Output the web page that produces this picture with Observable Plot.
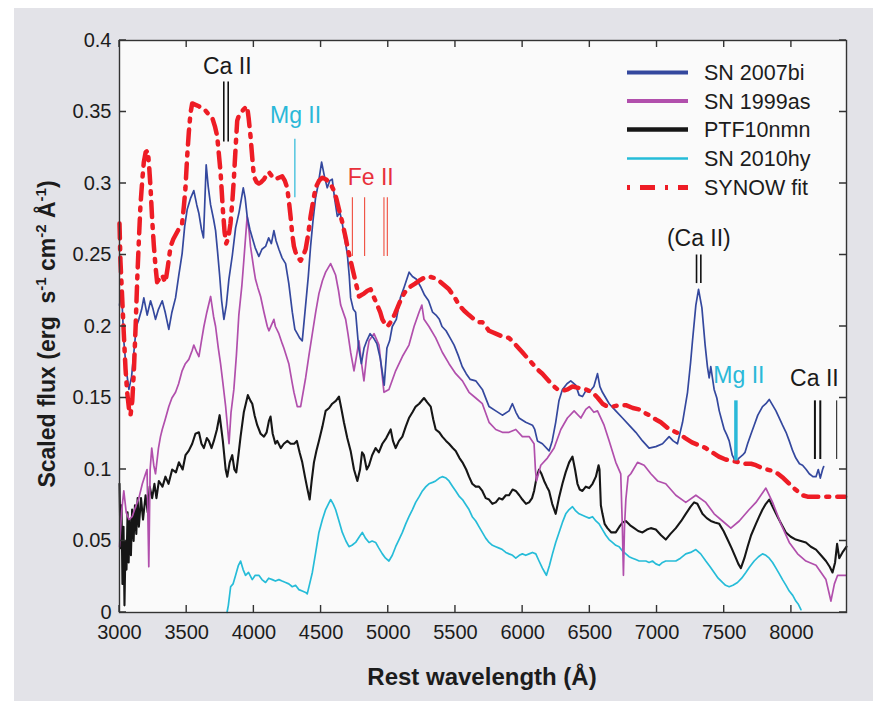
<!DOCTYPE html>
<html>
<head>
<meta charset="utf-8">
<script src="https://cdn.jsdelivr.net/npm/d3@7"></script>
<script src="https://cdn.jsdelivr.net/npm/@observablehq/plot@0.6"></script>
<style>
  html, body { margin: 0; padding: 0; background: #ffffff; }
  #panel { position: absolute; left: 14px; top: 8px; width: 859px; height: 693px; background: #e3e3e8; }
  #chart { position: absolute; left: 0; top: 0; }
  svg { font-family: "Liberation Sans", Arial, Helvetica, sans-serif; }
</style>
</head>
<body>
<div id="panel"></div>
<div id="chart"></div>
<script>
// ---------- data (wavelength Å, scaled flux) ----------
const sn2007bi = [[3000,0.215],[3015,0.225],[3032,0.19],[3050,0.17],[3070,0.156],[3090,0.165],[3107,0.182],[3125,0.2],[3144,0.205],[3165,0.212],[3181,0.22],[3206,0.208],[3231,0.218],[3250,0.212],[3268,0.205],[3290,0.212],[3318,0.218],[3340,0.21],[3367,0.198],[3390,0.21],[3417,0.22],[3440,0.235],[3466,0.251],[3485,0.27],[3504,0.282],[3530,0.29],[3553,0.295],[3575,0.285],[3591,0.279],[3610,0.268],[3625,0.262],[3645,0.313],[3660,0.298],[3678,0.285],[3700,0.275],[3715,0.267],[3730,0.252],[3745,0.236],[3760,0.218],[3777,0.205],[3795,0.215],[3814,0.233],[3840,0.25],[3864,0.269],[3890,0.28],[3921,0.297],[3935,0.29],[3950,0.277],[3970,0.268],[3988,0.262],[4010,0.255],[4037,0.249],[4060,0.254],[4087,0.256],[4110,0.262],[4130,0.258],[4149,0.267],[4165,0.26],[4186,0.254],[4210,0.248],[4236,0.244],[4260,0.23],[4286,0.21],[4305,0.198],[4323,0.195],[4340,0.192],[4360,0.19],[4385,0.215],[4405,0.235],[4422,0.256],[4440,0.274],[4459,0.29],[4480,0.3],[4504,0.315],[4525,0.305],[4546,0.297],[4565,0.302],[4583,0.303],[4600,0.29],[4621,0.277],[4640,0.28],[4658,0.272],[4675,0.262],[4695,0.251],[4710,0.235],[4720,0.22],[4740,0.212],[4757,0.21],[4780,0.185],[4800,0.174],[4820,0.185],[4840,0.19],[4865,0.195],[4890,0.192],[4915,0.188],[4940,0.178],[4970,0.159],[4990,0.185],[5010,0.19],[5030,0.2],[5060,0.205],[5090,0.22],[5120,0.228],[5155,0.238],[5180,0.235],[5210,0.233],[5240,0.228],[5270,0.222],[5300,0.218],[5330,0.21],[5355,0.208],[5380,0.205],[5400,0.2],[5430,0.197],[5460,0.192],[5490,0.187],[5520,0.18],[5550,0.172],[5580,0.167],[5610,0.163],[5651,0.162],[5700,0.156],[5750,0.144],[5800,0.141],[5849,0.138],[5899,0.141],[5924,0.146],[5950,0.14],[5973,0.136],[6023,0.133],[6073,0.131],[6090,0.128],[6110,0.12],[6147,0.118],[6197,0.113],[6220,0.12],[6246,0.133],[6270,0.148],[6296,0.156],[6330,0.16],[6358,0.162],[6395,0.159],[6420,0.152],[6445,0.151],[6470,0.155],[6495,0.154],[6530,0.158],[6557,0.167],[6575,0.158],[6594,0.154],[6644,0.146],[6693,0.141],[6743,0.136],[6792,0.131],[6842,0.126],[6892,0.12],[6941,0.115],[6991,0.116],[7041,0.118],[7090,0.123],[7120,0.12],[7152,0.118],[7190,0.133],[7227,0.154],[7250,0.175],[7264,0.19],[7289,0.215],[7309,0.226],[7334,0.213],[7358,0.187],[7375,0.172],[7388,0.164],[7400,0.172],[7425,0.156],[7445,0.15],[7463,0.141],[7480,0.135],[7500,0.128],[7520,0.124],[7537,0.12],[7560,0.11],[7587,0.105],[7610,0.108],[7636,0.11],[7655,0.112],[7674,0.118],[7700,0.125],[7723,0.131],[7750,0.138],[7785,0.144],[7810,0.146],[7835,0.149],[7860,0.145],[7885,0.141],[7910,0.136],[7934,0.131],[7960,0.126],[7984,0.12],[8010,0.113],[8033,0.108],[8060,0.104],[8083,0.103],[8110,0.1],[8133,0.097],[8160,0.095],[8183,0.095],[8200,0.1],[8215,0.094],[8232,0.1],[8240,0.102]];

const sn1999as = [[3000,0.046],[3015,0.07],[3032,0.085],[3050,0.07],[3070,0.065],[3094,0.067],[3120,0.074],[3144,0.08],[3170,0.09],[3194,0.097],[3205,0.1],[3218,0.032],[3228,0.1],[3240,0.115],[3255,0.103],[3268,0.097],[3290,0.115],[3305,0.123],[3318,0.128],[3340,0.135],[3367,0.144],[3390,0.15],[3417,0.154],[3440,0.16],[3466,0.169],[3490,0.174],[3516,0.177],[3540,0.183],[3553,0.187],[3575,0.182],[3591,0.179],[3610,0.19],[3628,0.2],[3650,0.21],[3678,0.221],[3700,0.207],[3715,0.2],[3735,0.185],[3752,0.174],[3770,0.16],[3790,0.144],[3815,0.118],[3830,0.14],[3851,0.156],[3870,0.18],[3888,0.208],[3910,0.228],[3925,0.246],[3950,0.277],[3965,0.266],[3975,0.256],[4000,0.24],[4012,0.233],[4030,0.227],[4050,0.221],[4075,0.21],[4100,0.2],[4112,0.197],[4149,0.205],[4160,0.2],[4186,0.195],[4211,0.188],[4223,0.185],[4260,0.174],[4286,0.16],[4298,0.154],[4323,0.144],[4348,0.144],[4385,0.164],[4410,0.18],[4435,0.195],[4460,0.21],[4484,0.223],[4510,0.232],[4534,0.238],[4571,0.244],[4590,0.24],[4608,0.236],[4630,0.225],[4646,0.215],[4683,0.205],[4700,0.195],[4720,0.182],[4745,0.169],[4765,0.18],[4782,0.19],[4800,0.175],[4819,0.162],[4840,0.18],[4857,0.19],[4894,0.195],[4931,0.187],[4950,0.17],[4968,0.154],[5005,0.156],[5055,0.169],[5105,0.179],[5154,0.187],[5192,0.2],[5229,0.21],[5250,0.215],[5266,0.205],[5303,0.2],[5353,0.192],[5402,0.182],[5452,0.174],[5502,0.167],[5552,0.162],[5601,0.154],[5651,0.15],[5700,0.146],[5750,0.133],[5800,0.128],[5849,0.126],[5899,0.126],[5949,0.128],[5998,0.123],[6048,0.123],[6085,0.118],[6095,0.1],[6103,0.092],[6135,0.103],[6184,0.108],[6234,0.115],[6284,0.128],[6333,0.136],[6383,0.141],[6433,0.136],[6470,0.142],[6495,0.144],[6530,0.14],[6557,0.141],[6606,0.131],[6644,0.12],[6693,0.105],[6730,0.097],[6742,0.06],[6750,0.026],[6758,0.06],[6768,0.079],[6785,0.095],[6805,0.097],[6855,0.105],[6904,0.103],[6954,0.097],[7004,0.092],[7065,0.09],[7140,0.082],[7214,0.077],[7289,0.082],[7363,0.077],[7425,0.069],[7487,0.064],[7549,0.059],[7612,0.064],[7686,0.072],[7736,0.077],[7810,0.087],[7860,0.077],[7922,0.062],[7984,0.049],[8046,0.041],[8108,0.036],[8183,0.033],[8257,0.023],[8294,0.008],[8320,0.02],[8344,0.026],[8406,0.026]];

const ptf10nmn = [[3000,0.09],[3008,0.045],[3015,0.075],[3022,0.02],[3030,0.06],[3037,0.005],[3045,0.05],[3052,0.03],[3060,0.07],[3068,0.035],[3075,0.065],[3085,0.04],[3094,0.072],[3105,0.05],[3115,0.075],[3125,0.055],[3135,0.08],[3144,0.06],[3160,0.08],[3175,0.065],[3194,0.082],[3210,0.07],[3225,0.088],[3243,0.08],[3260,0.09],[3275,0.08],[3293,0.092],[3320,0.088],[3342,0.095],[3365,0.09],[3392,0.1],[3420,0.098],[3442,0.105],[3470,0.1],[3491,0.11],[3515,0.113],[3541,0.118],[3565,0.125],[3591,0.126],[3610,0.118],[3628,0.115],[3650,0.122],[3665,0.12],[3685,0.115],[3702,0.12],[3725,0.128],[3745,0.138],[3769,0.12],[3790,0.1],[3802,0.095],[3820,0.105],[3839,0.11],[3855,0.1],[3869,0.098],[3885,0.11],[3901,0.123],[3925,0.14],[3955,0.152],[3975,0.148],[3988,0.146],[4005,0.138],[4025,0.131],[4050,0.125],[4075,0.123],[4095,0.126],[4112,0.134],[4124,0.137],[4140,0.125],[4160,0.118],[4174,0.12],[4200,0.115],[4223,0.118],[4250,0.12],[4273,0.118],[4300,0.118],[4320,0.12],[4340,0.112],[4360,0.105],[4380,0.095],[4397,0.087],[4415,0.079],[4430,0.092],[4447,0.105],[4465,0.113],[4484,0.12],[4510,0.13],[4534,0.141],[4560,0.143],[4583,0.146],[4610,0.148],[4633,0.151],[4650,0.143],[4670,0.133],[4695,0.122],[4720,0.113],[4745,0.1],[4770,0.092],[4790,0.1],[4805,0.112],[4819,0.11],[4840,0.1],[4857,0.103],[4880,0.11],[4906,0.115],[4930,0.112],[4956,0.118],[4985,0.122],[5018,0.128],[5035,0.12],[5055,0.115],[5080,0.12],[5105,0.123],[5130,0.13],[5154,0.136],[5180,0.14],[5204,0.144],[5230,0.146],[5266,0.15],[5290,0.147],[5316,0.144],[5335,0.135],[5353,0.128],[5380,0.126],[5402,0.123],[5430,0.12],[5452,0.118],[5480,0.115],[5502,0.113],[5530,0.108],[5552,0.105],[5580,0.1],[5601,0.095],[5625,0.09],[5651,0.088],[5675,0.088],[5700,0.085],[5725,0.08],[5750,0.079],[5775,0.076],[5800,0.077],[5825,0.08],[5849,0.079],[5875,0.082],[5899,0.082],[5925,0.086],[5949,0.085],[5975,0.082],[5998,0.079],[6025,0.076],[6048,0.077],[6070,0.08],[6085,0.085],[6105,0.095],[6122,0.1],[6140,0.097],[6160,0.092],[6180,0.088],[6197,0.085],[6220,0.076],[6246,0.069],[6270,0.08],[6296,0.09],[6320,0.098],[6346,0.105],[6371,0.109],[6390,0.1],[6408,0.09],[6425,0.086],[6445,0.085],[6470,0.088],[6495,0.087],[6520,0.09],[6545,0.095],[6565,0.103],[6572,0.1],[6582,0.075],[6594,0.069],[6610,0.062],[6631,0.059],[6660,0.056],[6693,0.056],[6720,0.06],[6745,0.063],[6768,0.064],[6800,0.061],[6830,0.059],[6860,0.057],[6892,0.056],[6925,0.058],[6954,0.059],[6991,0.058],[7030,0.054],[7065,0.051],[7100,0.055],[7140,0.059],[7180,0.064],[7214,0.069],[7250,0.074],[7276,0.077],[7300,0.076],[7338,0.069],[7370,0.066],[7400,0.064],[7430,0.063],[7463,0.062],[7495,0.057],[7525,0.051],[7555,0.045],[7587,0.038],[7605,0.034],[7624,0.031],[7650,0.038],[7674,0.046],[7700,0.054],[7736,0.062],[7760,0.067],[7785,0.072],[7810,0.076],[7835,0.079],[7865,0.073],[7897,0.067],[7930,0.061],[7959,0.056],[7995,0.053],[8033,0.051],[8070,0.05],[8108,0.049],[8145,0.046],[8183,0.044],[8220,0.04],[8257,0.036],[8285,0.032],[8306,0.028],[8325,0.035],[8340,0.048],[8356,0.038],[8380,0.042],[8410,0.046]];

const sn2010hy = [[3800,0],[3810,0.005],[3827,0.018],[3845,0.02],[3864,0.026],[3885,0.033],[3901,0.036],[3920,0.03],[3938,0.026],[3960,0.028],[3988,0.023],[4010,0.026],[4037,0.026],[4060,0.023],[4087,0.021],[4110,0.024],[4137,0.023],[4160,0.022],[4186,0.023],[4210,0.022],[4236,0.021],[4260,0.02],[4286,0.018],[4310,0.019],[4335,0.016],[4360,0.015],[4385,0.014],[4397,0.013],[4415,0.02],[4435,0.028],[4460,0.042],[4484,0.056],[4510,0.065],[4534,0.072],[4555,0.076],[4571,0.079],[4590,0.076],[4608,0.072],[4630,0.065],[4658,0.056],[4685,0.05],[4708,0.046],[4730,0.047],[4757,0.049],[4785,0.053],[4807,0.056],[4830,0.052],[4857,0.049],[4880,0.05],[4906,0.049],[4930,0.045],[4956,0.041],[4980,0.038],[5005,0.036],[5030,0.04],[5055,0.046],[5080,0.051],[5105,0.056],[5130,0.062],[5154,0.067],[5180,0.072],[5204,0.077],[5230,0.081],[5254,0.085],[5280,0.088],[5303,0.09],[5330,0.091],[5353,0.092],[5380,0.094],[5402,0.095],[5430,0.094],[5452,0.092],[5480,0.088],[5502,0.085],[5530,0.081],[5552,0.079],[5580,0.075],[5601,0.072],[5625,0.067],[5651,0.064],[5675,0.06],[5700,0.056],[5725,0.052],[5750,0.049],[5775,0.047],[5800,0.046],[5825,0.045],[5849,0.044],[5875,0.042],[5899,0.041],[5925,0.04],[5949,0.038],[5975,0.04],[5998,0.041],[6023,0.04],[6048,0.041],[6073,0.042],[6098,0.041],[6122,0.036],[6147,0.031],[6165,0.028],[6177,0.026],[6200,0.033],[6222,0.041],[6246,0.049],[6271,0.056],[6296,0.063],[6321,0.069],[6346,0.072],[6371,0.074],[6395,0.071],[6420,0.069],[6445,0.068],[6470,0.067],[6495,0.066],[6520,0.067],[6545,0.064],[6569,0.062],[6594,0.058],[6619,0.054],[6643,0.051],[6668,0.049],[6693,0.047],[6718,0.046],[6743,0.043],[6768,0.041],[6792,0.039],[6817,0.038],[6842,0.037],[6867,0.036],[6892,0.036],[6917,0.036],[6941,0.035],[6966,0.036],[6991,0.034],[7016,0.033],[7041,0.035],[7065,0.036],[7100,0.036],[7140,0.036],[7175,0.038],[7214,0.041],[7250,0.042],[7289,0.044],[7325,0.041],[7363,0.036],[7395,0.032],[7425,0.028],[7455,0.024],[7487,0.021],[7510,0.019],[7537,0.018],[7565,0.019],[7599,0.021],[7630,0.024],[7661,0.028],[7690,0.032],[7723,0.036],[7755,0.039],[7785,0.041],[7810,0.04],[7835,0.038],[7860,0.035],[7885,0.031],[7910,0.027],[7934,0.023],[7960,0.019],[7984,0.015],[8010,0.012],[8033,0.008],[8050,0.006],[8071,0.002]];

const synowFit = [[3000,0.272],[3007,0.246],[3020,0.22],[3032,0.195],[3045,0.17],[3057,0.154],[3070,0.143],[3082,0.138],[3095,0.148],[3107,0.169],[3120,0.2],[3132,0.233],[3144,0.26],[3156,0.285],[3170,0.303],[3181,0.315],[3195,0.322],[3211,0.323],[3222,0.31],[3231,0.297],[3243,0.275],[3256,0.256],[3268,0.242],[3280,0.231],[3300,0.234],[3318,0.236],[3330,0.233],[3342,0.231],[3360,0.242],[3380,0.256],[3400,0.261],[3417,0.264],[3440,0.268],[3466,0.272],[3480,0.285],[3491,0.297],[3503,0.318],[3516,0.336],[3528,0.349],[3541,0.356],[3566,0.355],[3591,0.354],[3615,0.352],[3640,0.351],[3665,0.348],[3690,0.346],[3710,0.34],[3727,0.333],[3740,0.32],[3752,0.308],[3769,0.282],[3782,0.266],[3794,0.258],[3810,0.262],[3826,0.272],[3840,0.288],[3851,0.303],[3864,0.325],[3876,0.344],[3890,0.348],[3901,0.349],[3925,0.352],[3950,0.354],[3962,0.345],[3975,0.333],[3988,0.318],[4000,0.305],[4020,0.301],[4037,0.3],[4055,0.301],[4075,0.303],[4095,0.306],[4112,0.308],[4135,0.305],[4161,0.303],[4185,0.304],[4211,0.305],[4230,0.302],[4248,0.297],[4260,0.288],[4273,0.277],[4285,0.265],[4298,0.256],[4310,0.252],[4330,0.248],[4348,0.246],[4365,0.249],[4385,0.254],[4405,0.265],[4422,0.277],[4440,0.287],[4459,0.297],[4485,0.302],[4509,0.304],[4535,0.303],[4559,0.301],[4580,0.298],[4596,0.295],[4615,0.289],[4633,0.282],[4660,0.272],[4683,0.262],[4700,0.254],[4720,0.246],[4740,0.238],[4757,0.231],[4770,0.226],[4782,0.221],[4800,0.222],[4819,0.223],[4845,0.225],[4869,0.226],[4895,0.22],[4918,0.215],[4940,0.21],[4956,0.205],[4975,0.202],[4993,0.2],[5010,0.202],[5030,0.205],[5050,0.209],[5068,0.213],[5090,0.218],[5117,0.223],[5140,0.226],[5167,0.228],[5200,0.23],[5229,0.232],[5265,0.234],[5303,0.235],[5340,0.234],[5378,0.232],[5415,0.229],[5452,0.226],[5490,0.221],[5527,0.215],[5565,0.211],[5601,0.208],[5640,0.205],[5676,0.203],[5700,0.203],[5750,0.197],[5800,0.195],[5849,0.193],[5899,0.192],[5950,0.187],[5998,0.182],[6035,0.178],[6073,0.174],[6110,0.17],[6147,0.167],[6185,0.163],[6222,0.159],[6260,0.156],[6296,0.155],[6335,0.156],[6371,0.158],[6420,0.157],[6470,0.156],[6520,0.154],[6560,0.15],[6594,0.146],[6630,0.144],[6668,0.144],[6720,0.145],[6768,0.145],[6820,0.143],[6867,0.142],[6900,0.14],[6941,0.138],[6991,0.135],[7028,0.133],[7080,0.129],[7120,0.127],[7165,0.125],[7210,0.122],[7260,0.119],[7310,0.117],[7363,0.115],[7410,0.112],[7460,0.109],[7510,0.107],[7562,0.106],[7610,0.105],[7660,0.104],[7700,0.104],[7736,0.103],[7780,0.101],[7820,0.1],[7860,0.099],[7900,0.097],[7940,0.094],[7984,0.09],[8030,0.086],[8083,0.082],[8120,0.081],[8158,0.081],[8200,0.081],[8260,0.081],[8300,0.081],[8356,0.081],[8400,0.081]];

// line identification markers: wavelength, flux from, flux to
const caIIBlueMarks   = [[3776,0.329,0.371],[3809,0.329,0.371]];
const mgIIBlueMarks   = [[4305,0.290,0.331]];
const feIIMarks       = [[4733,0.249,0.290],[4824,0.249,0.290],[4968,0.249,0.290],[4993,0.249,0.290]];
const caIINirMarks    = [[7294,0.230,0.250],[7326,0.230,0.250]];
const mgIIRedMarks    = [[7587,0.106,0.148]];
const caIIRedMarks    = [[8175,0.107,0.148],[8215,0.107,0.148]];
const caIIRedThin     = [[8337,0.107,0.148]];

// line labels: text, wavelength, flux (vertical centre)
const blackLabels = [["Ca II",3802,0.3815],["(Ca II)",7311,0.2615],["Ca II",8171,0.1636]];
const cyanLabels  = [["Mg II",4310,0.3476],["Mg II",7609,0.1657]];
const redLabels   = [["Fe II",4869,0.3044]];

const xTicks = [3000,3500,4000,4500,5000,5500,6000,6500,7000,7500,8000];
const yTicks = [0,0.05,0.1,0.15,0.2,0.25,0.3,0.35,0.4];

const seriesNames = ["SN 2007bi","SN 1999as","PTF10nmn","SN 2010hy","SYNOW fit"];
const seriesColors = ["#34489e","#b14fac","#161616","#26bcd8","#ee1c25"];

// ---------- build ----------
const toObj = a => a.map(([w, f]) => ({w, f}));
const toRule = a => a.map(([x, y1, y2]) => ({x, y1, y2}));
const toLab = a => a.map(([t, x, y]) => ({t, x, y}));
const fmtY = d => String(+d.toFixed(2));

const plot = Plot.plot({
  width: 873, height: 704,
  marginLeft: 119, marginRight: 27, marginTop: 40, marginBottom: 92,
  x: {domain: [3000, 8410]},
  y: {domain: [0, 0.4]},
  style: {background: "transparent", fontFamily: "'Liberation Sans', Arial, sans-serif", fontSize: "20px", color: "#1c1c1c", overflow: "visible"},
  marks: [
    Plot.frame({fill: "#fafafa", stroke: null}),
    Plot.line(toObj(sn2010hy), {x: "w", y: "f", stroke: seriesColors[3], strokeWidth: 1.7}),
    Plot.line(toObj(ptf10nmn), {x: "w", y: "f", stroke: seriesColors[2], strokeWidth: 2.1}),
    Plot.line(toObj(sn1999as), {x: "w", y: "f", stroke: seriesColors[1], strokeWidth: 1.7}),
    Plot.line(toObj(sn2007bi), {x: "w", y: "f", stroke: seriesColors[0], strokeWidth: 1.7}),
    Plot.line(toObj(synowFit), {x: "w", y: "f", stroke: seriesColors[4], strokeWidth: 4.5, strokeDasharray: "15,8,3,8", strokeLinejoin: "round"}),
    Plot.ruleX(toRule(caIIBlueMarks), {x: "x", y1: "y1", y2: "y2", stroke: "#111", strokeWidth: 1.6}),
    Plot.ruleX(toRule(mgIIBlueMarks), {x: "x", y1: "y1", y2: "y2", stroke: "#2ab8d8", strokeWidth: 1.2}),
    Plot.ruleX(toRule(feIIMarks), {x: "x", y1: "y1", y2: "y2", stroke: "#ef4b3c", strokeWidth: 1.1}),
    Plot.ruleX(toRule(caIINirMarks), {x: "x", y1: "y1", y2: "y2", stroke: "#111", strokeWidth: 1.6}),
    Plot.ruleX(toRule(mgIIRedMarks), {x: "x", y1: "y1", y2: "y2", stroke: "#2ab8d8", strokeWidth: 3.5}),
    Plot.ruleX(toRule(caIIRedMarks), {x: "x", y1: "y1", y2: "y2", stroke: "#111", strokeWidth: 2}),
    Plot.ruleX(toRule(caIIRedThin), {x: "x", y1: "y1", y2: "y2", stroke: "#111", strokeWidth: 1}),
    Plot.text(toLab(blackLabels), {x: "x", y: "y", text: "t", fill: "#1a1a1a", fontSize: 23, textAnchor: "middle"}),
    Plot.text(toLab(cyanLabels), {x: "x", y: "y", text: "t", fill: "#2ab8d8", fontSize: 23, textAnchor: "middle"}),
    Plot.text(toLab(redLabels), {x: "x", y: "y", text: "t", fill: "#e8303a", fontSize: 23, textAnchor: "middle"}),
    // tick labels
    Plot.axisX(xTicks, {anchor: "bottom", tickSize: 0, tickPadding: 12, tickFormat: d => String(d), label: null, fontSize: 20}),
    Plot.axisY(yTicks, {anchor: "left", tickSize: 0, tickPadding: 8, tickFormat: fmtY, label: null, fontSize: 20}),
    Plot.frame({stroke: "#333", strokeWidth: 1.4})
  ]
});

document.getElementById("chart").appendChild(plot);

// ---------- inward tick marks (positions from the plot's own scales) ----------
const svg = d3.select(plot);
const xs = plot.scale("x"), ys = plot.scale("y");
const sx = d3.scaleLinear(xs.domain, xs.range);
const sy = d3.scaleLinear(ys.domain, ys.range);
const xL = Math.min(...xs.range), xR = Math.max(...xs.range);
const yT = Math.min(...ys.range), yB = Math.max(...ys.range);
const tk = svg.append("g");
xTicks.forEach(v => {
  const px = sx(v);
  tk.append("path").attr("d", `M${px},${yB}V${yB - 7}M${px},${yT}V${yT + 7}`)
    .attr("stroke", "#333").attr("stroke-width", 1.4).attr("fill", "none");
});
yTicks.forEach(v => {
  const py = sy(v);
  tk.append("path").attr("d", `M${xL},${py}H${xL + 7}M${xR},${py}H${xR - 7}`)
    .attr("stroke", "#333").attr("stroke-width", 1.4).attr("fill", "none");
});

// ---------- axis titles and legend ----------
const ff = "'Liberation Sans', Arial, sans-serif";

svg.append("text")
  .attr("x", 482).attr("y", 685)
  .attr("text-anchor", "middle")
  .attr("font-family", ff).attr("font-weight", "bold").attr("font-size", 24)
  .attr("fill", "#1c1c1c")
  .text("Rest wavelength (Å)");

const yl = svg.append("text")
  .attr("transform", "translate(55,334) rotate(-90)")
  .attr("text-anchor", "middle")
  .attr("font-family", ff).attr("font-weight", "bold").attr("font-size", 23)
  .attr("fill", "#1c1c1c");
const parts = [["Scaled flux (erg  s", false], ["-1", true], [" cm", false], ["-2", true], [" Å", false], ["-1", true], [")", false]];
parts.forEach(([t, sup], i) => {
  const ts = yl.append("tspan").text(t);
  if (sup) ts.attr("font-size", 15).attr("dy", -9);
  else if (i > 0 && parts[i - 1][1]) ts.attr("dy", 9);
});

const legendRows = [72.5, 101, 129.5, 158.5, 187.5];
const legendWidths = [4, 4, 4.5, 2.5, 5];
const lg = svg.append("g");
seriesNames.forEach((name, i) => {
  lg.append("line")
    .attr("x1", 627).attr("x2", 688)
    .attr("y1", legendRows[i]).attr("y2", legendRows[i])
    .attr("stroke", seriesColors[i]).attr("stroke-width", legendWidths[i])
    .attr("stroke-dasharray", i === 4 ? "3,10,15,10" : null);
  lg.append("text")
    .attr("x", 704).attr("y", legendRows[i]).attr("dy", "0.36em")
    .attr("text-anchor", "start")
    .attr("font-family", ff).attr("font-size", 21.5).attr("fill", "#1c1c1c")
    .text(name);
});
</script>
</body>
</html>
